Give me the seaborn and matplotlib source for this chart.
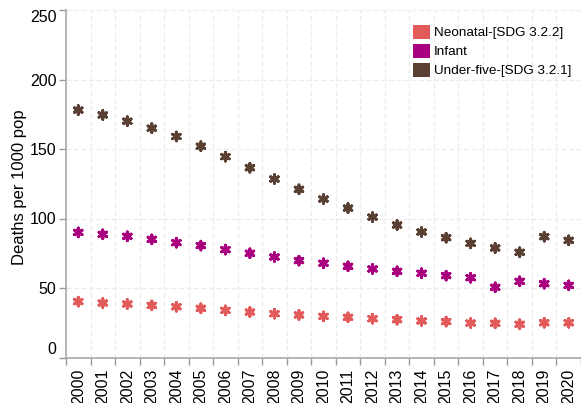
import matplotlib
matplotlib.use("Agg")
import matplotlib.pyplot as plt
import seaborn as sns
import pandas as pd
from matplotlib.patches import Patch

years = [str(y) for y in range(2000, 2021)]
neonatal = [40.2, 39.2, 38.5, 37.5, 36.5, 35.4, 33.9, 32.7, 31.5, 30.6, 29.6,
            28.9, 27.9, 27.2, 26.3, 25.8, 24.8, 24.6, 23.9, 25.0, 25.0]
infant = [90.0, 88.6, 87.2, 85.0, 82.6, 80.5, 77.6, 75.0, 72.3, 69.7, 67.8,
          65.6, 63.7, 62.0, 60.6, 58.9, 57.4, 50.5, 54.8, 53.1, 51.9]
under_five = [178.0, 174.5, 170.0, 165.0, 159.0, 152.0, 144.5, 136.5, 128.4, 121.0, 114.0,
              107.5, 101.0, 95.3, 90.3, 86.2, 82.1, 78.8, 75.7, 86.9, 84.3]
series_names = ["Neonatal-[SDG 3.2.2]", "Infant", "Under-five-[SDG 3.2.1]"]
colors = ["#E35A5A", "#A8007F", "#5A4033"]
y_ticks = [0, 50, 100, 150, 200, 250]

df = pd.concat([
    pd.DataFrame({"year": years, "value": vals, "series": name})
    for name, vals in zip(series_names, [neonatal, infant, under_five])
])

plt.rcParams["font.family"] = ["Liberation Sans", "DejaVu Sans"]
fig = plt.figure(figsize=(5.81, 4.03), dpi=100)
ax = fig.add_axes([66 / 581, 1 - 357.5 / 403, 1 - 66 / 581, (357.5 - 10) / 403])

sns.stripplot(data=df, x="year", y="value", hue="series", order=years,
              hue_order=series_names, palette=colors, jitter=False, dodge=False,
              marker=(6, 2, 0), s=6.3, linewidth=2.1, ax=ax, legend=False, zorder=3)

ax.set_xlim(-0.5, len(years) - 0.5)
ax.set_ylim(0, 250)
ax.set_yticks(y_ticks)
ax.set_yticklabels([str(t) for t in y_ticks], fontsize=11.5)
ax.set_xticks(range(len(years)))
ax.set_xticklabels(years, rotation=90, fontsize=11.5)
ax.tick_params(axis="x", which="major", length=0, pad=8)
ax.set_xticks([i - 0.5 for i in range(len(years) + 1)], minor=True)
ax.tick_params(axis="x", which="minor", length=5, color="#999999", width=1)
ax.tick_params(axis="y", length=5, color="#999999", width=1, pad=2)
ax.set_xlabel("")
ax.set_ylabel("Deaths per 1000 pop", fontsize=12)
ax.yaxis.set_label_coords(-0.076, 0.49)

ax.grid(False)
ax.yaxis.grid(True, linestyle=(0, (4, 2)), color="#ececec", linewidth=0.9, zorder=0)
ax.xaxis.grid(True, which="minor", linestyle=(0, (4, 2)), color="#ececec", linewidth=0.9, zorder=0)
ax.set_axisbelow(True)

for side in ["top", "right"]:
    ax.spines[side].set_visible(False)
for side in ["left", "bottom"]:
    ax.spines[side].set_color("#aaaaaa")
    ax.spines[side].set_linewidth(1.2)

labels = ax.get_yticklabels()
labels[0].set_va("bottom")
labels[-1].set_va("top")

handles = [Patch(facecolor=c, edgecolor="none") for c in colors]
ax.legend(handles, series_names, loc="upper left", bbox_to_anchor=(0.664, 0.973),
          frameon=False, fontsize=9.7, handlelength=1.25, handleheight=1.25,
          handletextpad=0.3, labelspacing=0.32, borderaxespad=0)

fig.savefig("out.png", dpi=100)
